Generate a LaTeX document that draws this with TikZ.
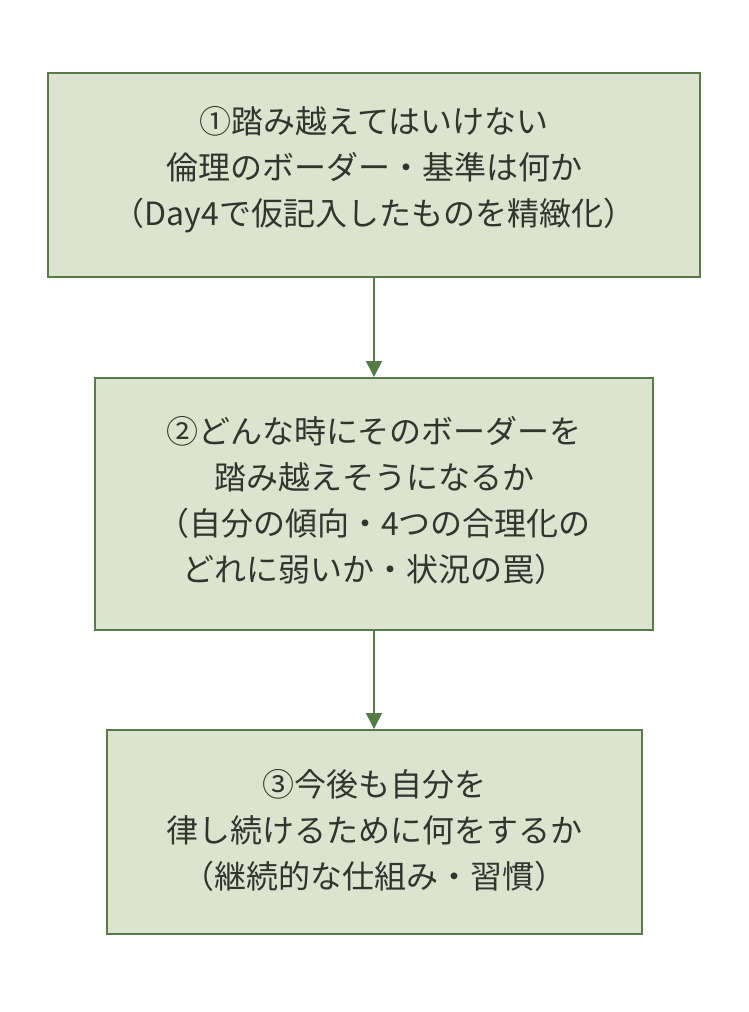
\documentclass[tikz,border=0pt]{standalone}
\usepackage{fontspec}
\newfontfamily\cjk{Noto Sans CJK JP}
\usetikzlibrary{arrows.meta}
\definecolor{boxfill}{HTML}{DCE4CF}
\definecolor{boxline}{HTML}{587A4B}
\definecolor{txt}{HTML}{30362E}
\tikzset{
  stepbox/.style={draw=boxline, line width=2pt, fill=boxfill, rectangle, inner sep=0pt,
    align=center, text=txt, font=\cjk\fontsize{32}{46}\selectfont},
  flow/.style={draw=boxline, line width=1.7pt, -{Triangle[length=16pt,width=16pt]}}
}
\begin{document}
\begin{tikzpicture}[x=1pt,y=-1pt]
\useasboundingbox (0,0) rectangle (748,1012);
\node[stepbox, minimum width=652pt, minimum height=204pt] (b1) at (374,175) {};
\node[stepbox, minimum width=558pt, minimum height=252pt] (b2) at (374,504) {};
\node[stepbox, minimum width=535pt, minimum height=204pt] (b3) at (374,832) {};
\node[stepbox, draw=none, fill=none] (t1) at (374,170)
  {①踏み越えてはいけない\\倫理のボーダー・基準は何か\\（Day4で仮記入したものを精緻化）};
\node[stepbox, draw=none, fill=none] (t2) at (374,500)
  {②どんな時にそのボーダーを\\踏み越えそうになるか\\（自分の傾向・4つの合理化の\\どれに弱いか・状況の罠）};
\node[stepbox, draw=none, fill=none] (t3) at (374,830)
  {③今後も自分を\\律し続けるために何をするか\\（継続的な仕組み・習慣）};
\draw[flow] (b1.south) -- (b2.north);
\draw[flow] (b2.south) -- (b3.north);
\end{tikzpicture}
\end{document}
